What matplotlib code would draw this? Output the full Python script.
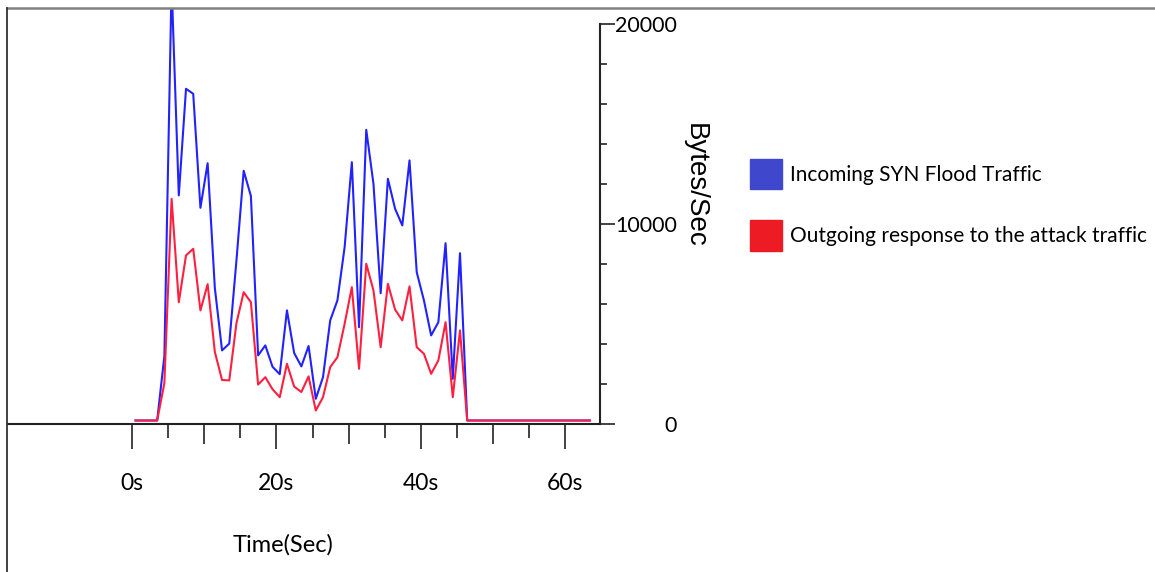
import matplotlib
matplotlib.use("Agg")
import matplotlib.pyplot as plt
import numpy as np
from matplotlib.lines import Line2D
from matplotlib.patches import Patch
from matplotlib.ticker import FixedLocator, MultipleLocator, FuncFormatter

plt.rcParams['font.family'] = ['Lato', 'DejaVu Sans']

# one sample per second
time_s = np.arange(64) + 0.45

incoming = [175, 175, 175, 175, 3400, 22000, 11430, 16760, 16510, 10810,
            13040, 6800, 3680, 4020, 8200, 12660, 11400, 3430, 3930, 2860,
            2490, 5680, 3550, 2880, 3900, 1260, 2340, 5180, 6180, 8840,
            13090, 4840, 14710, 12010, 6540, 12260, 10760, 9930, 13180, 7590,
            6180, 4430, 5090, 9040, 2260, 8540, 175, 175, 175, 175,
            175, 175, 175, 175, 175, 175, 175, 175, 175, 175,
            175, 175, 175, 175]
outgoing = [175, 175, 175, 175, 2050, 11260, 6090, 8430, 8760, 5680,
            6990, 3600, 2200, 2180, 5050, 6590, 6090, 1970, 2340, 1740,
            1340, 3010, 1870, 1600, 2380, 675, 1340, 2840, 3340, 5010,
            6840, 2760, 8010, 6680, 3840, 7010, 5720, 5180, 6880, 3840,
            3510, 2510, 3180, 5090, 1340, 4680, 175, 175, 175, 175,
            175, 175, 175, 175, 175, 175, 175, 175, 175, 175,
            175, 175, 175, 175]

x_major = [0, 20, 40, 60]
x_minor = [5, 10, 15, 25, 30, 35, 45, 50, 55]
y_major = [0, 10000, 20000]

W, H = 1155, 572
fig = plt.figure(figsize=(W / 100, H / 100), dpi=100)
ax = fig.add_axes([8 / W, (H - 424) / H, 592 / W, 416 / H])

ax.plot(time_s, incoming, color='#2222ff', lw=1.5, label='Incoming SYN Flood Traffic')
ax.plot(time_s, outgoing, color='#ff2040', lw=1.5, label='Outgoing response to the attack traffic')

ax.set_xlim(-17.24, 64.87)
ax.set_ylim(0, 20800)

for s in ['top', 'left']:
    ax.spines[s].set_visible(False)
for s in ['right', 'bottom']:
    ax.spines[s].set_color('#222222')
    ax.spines[s].set_linewidth(1.5)
ax.spines['right'].set_bounds(0, 20000)

# x axis
ax.xaxis.set_major_locator(FixedLocator(x_major))
ax.xaxis.set_minor_locator(FixedLocator(x_minor))
ax.xaxis.set_major_formatter(FuncFormatter(lambda v, p: f"{v:.0f}s"))
ax.tick_params(axis='x', which='major', length=18, width=1.2, pad=17,
               labelsize=16.5, color='#222222')
ax.tick_params(axis='x', which='minor', length=10, width=1.2, color='#222222')
for tk, pos in zip(ax.xaxis.get_minor_ticks(len(x_minor)), x_minor):
    if pos % 10 == 0:
        tk.tick1line.set_markersize(14.4)

# y axis on the right
ax.yaxis.tick_right()
ax.yaxis.set_major_locator(FixedLocator(y_major))
ax.yaxis.set_minor_locator(MultipleLocator(2000))
ax.yaxis.set_major_formatter(FuncFormatter(lambda v, p: f"{v:.0f}"))
ax.tick_params(axis='y', which='major', length=11, width=1.2, pad=44.6,
               labelsize=15.5, color='#222222')
ax.tick_params(axis='y', which='minor', length=5, width=1.2, color='#222222')
for tk in ax.yaxis.get_major_ticks(len(y_major)):
    tk.label2.set_horizontalalignment('right')

ax.set_xlabel('Time(Sec)', fontsize=17, va='center')
ax.xaxis.set_label_coords((283 - 8) / 592, (424 - 545) / 416)
ax.yaxis.set_label_position('right')
ax.set_ylabel('Bytes/Sec', fontsize=20, rotation=-90, va='center', ha='center',
              family=['Liberation Sans', 'DejaVu Sans'])
ax.yaxis.set_label_coords((695 - 8) / 592, (424 - 185) / 416)

handles = [Patch(color='#3f48cc'), Patch(color='#ed1c24')]
labels = ['Incoming SYN Flood Traffic', 'Outgoing response to the attack traffic']
fig.legend(handles, labels, loc='upper left', bbox_to_anchor=(750 / W, 1 - 159 / H),
           frameon=False, fontsize=15, borderpad=0, borderaxespad=0,
           handlelength=1.55, handleheight=1.85, handletextpad=0.38, labelspacing=1.5)

# outer frame lines
fig.add_artist(Line2D([7 / W, 1], [1 - 7.5 / H, 1 - 7.5 / H], color='#808080', lw=1.8))
fig.add_artist(Line2D([7 / W, 7 / W], [0, 1 - 7.5 / H], color='#333333', lw=1.3))

fig.savefig('out.png', dpi=100)
